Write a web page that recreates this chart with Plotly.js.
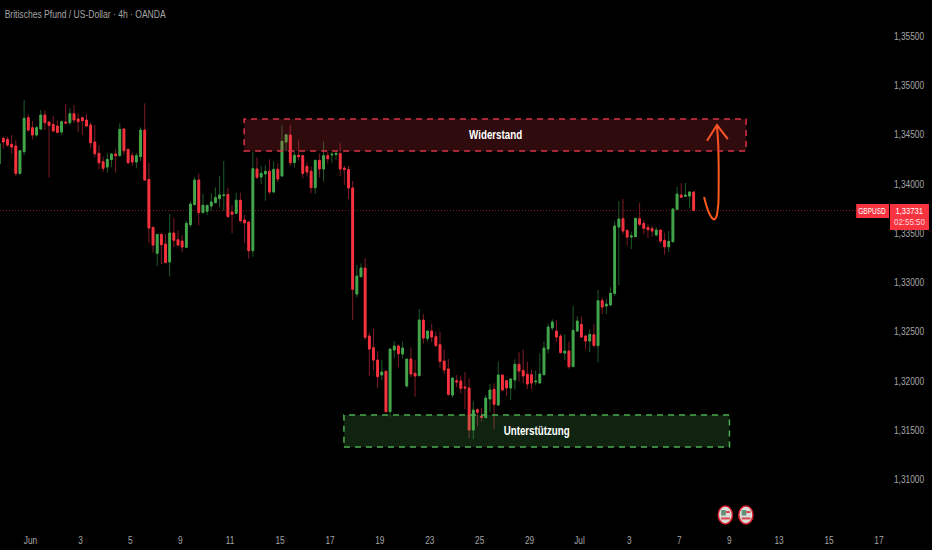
<!DOCTYPE html>
<html><head><meta charset="utf-8">
<script src="https://cdn.plot.ly/plotly-3.0.1.min.js"></script>
<style>html,body{margin:0;padding:0;background:#000}#c{width:932px;height:550px}</style>
</head><body><div id="c"></div>
<script>
const open_=[1.34203,1.34463,1.34453,1.34402,1.34385,1.34108,1.34328,1.34672,1.34571,1.34497,
1.34558,1.34699,1.34629,1.34605,1.34588,1.34527,1.34629,1.34622,1.34713,1.34659,
1.34672,1.34649,1.34598,1.34426,1.34311,1.34226,1.34172,1.34247,1.34304,1.34287,
1.34558,1.34351,1.34287,1.34223,1.34277,1.34547,1.34047,1.33560,1.33297,1.33489,
1.33391,1.33209,1.33503,1.33435,1.33422,1.33358,1.33588,1.33791,1.34041,1.33710,
1.33723,1.33777,1.33811,1.33852,1.33882,1.33895,1.33716,1.33703,1.33835,1.33635,
1.33615,1.33324,1.34152,1.34071,1.34102,1.34129,1.33919,1.34149,1.34081,1.34426,
1.34497,1.34217,1.34291,1.34288,1.34179,1.34129,1.33963,1.34240,1.34152,1.34288,
1.34294,1.34298,1.34308,1.34162,1.34146,1.33960,1.32884,1.33060,1.33148,1.32459,
1.32340,1.32215,1.32063,1.32100,1.31691,1.32317,1.32357,1.32276,1.31952,1.32225,
1.32080,1.32056,1.32621,1.32435,1.32509,1.32452,1.32371,1.32205,1.32124,1.31860,
1.32006,1.32002,1.31941,1.31931,1.31505,1.31712,1.31647,1.31631,1.31820,1.31918,
1.31759,1.32063,1.32006,1.31931,1.32012,1.32171,1.32110,1.32070,1.32066,1.31995,
1.31982,1.32066,1.32327,1.32540,1.32509,1.32459,1.32286,1.32306,1.32148,1.32509,
1.32577,1.32459,1.32408,1.32472,1.32361,1.32817,1.32763,1.32773,1.32891,1.33564,
1.33648,1.33530,1.33462,1.33466,1.33648,1.33601,1.33560,1.33547,1.33483,1.33533,
1.33429,1.33364,1.33415,1.33743,1.33888,1.33875,1.33878,1.33919];
const high_=[1.34412,1.34480,1.34480,1.34497,1.34446,1.34345,1.34852,1.34710,1.34639,1.34588,
1.34750,1.34750,1.34629,1.34689,1.34642,1.34642,1.34811,1.34767,1.34801,1.34716,
1.34683,1.34710,1.34625,1.34598,1.34395,1.34277,1.34311,1.34311,1.34351,1.34615,
1.34564,1.34361,1.34321,1.34311,1.34574,1.34818,1.34216,1.33567,1.33493,1.33500,
1.33493,1.33696,1.33655,1.33527,1.33483,1.33628,1.33824,1.34068,1.34108,1.33899,
1.33787,1.33906,1.33966,1.34081,1.34233,1.33963,1.33784,1.33912,1.33912,1.33686,
1.33615,1.34328,1.34271,1.34183,1.34190,1.34250,1.34233,1.34210,1.34599,1.34507,
1.34599,1.34338,1.34440,1.34294,1.34217,1.34176,1.34244,1.34311,1.34429,1.34328,
1.34328,1.34338,1.34413,1.34183,1.34183,1.34031,1.33178,1.33195,1.33246,1.32496,
1.32536,1.32306,1.32215,1.32114,1.32327,1.32408,1.32364,1.32401,1.32225,1.32344,
1.32215,1.32732,1.32682,1.32519,1.32580,1.32499,1.32499,1.32323,1.32225,1.32036,
1.32063,1.32056,1.32094,1.32029,1.31796,1.31725,1.31729,1.31860,1.31972,1.31979,
1.32198,1.32063,1.32012,1.32026,1.32222,1.32296,1.32323,1.32198,1.32114,1.32107,
1.32283,1.32401,1.32587,1.32628,1.32621,1.32479,1.32475,1.32401,1.32766,1.32661,
1.32655,1.32465,1.32526,1.32577,1.32925,1.32851,1.32834,1.32952,1.33618,1.33827,
1.33848,1.33540,1.33517,1.33658,1.33811,1.33635,1.33591,1.33577,1.33560,1.33537,
1.33506,1.33523,1.33753,1.33970,1.34010,1.34010,1.33929,1.33919];
const low_=[1.34203,1.34361,1.34378,1.34304,1.34081,1.34094,1.34294,1.34530,1.34453,1.34480,
1.34547,1.34547,1.34067,1.34530,1.34514,1.34497,1.34615,1.34601,1.34622,1.34524,
1.34497,1.34581,1.34361,1.34270,1.34149,1.34122,1.34115,1.34169,1.34115,1.34284,
1.34294,1.34203,1.34182,1.34159,1.34236,1.34040,1.33405,1.33304,1.33168,1.33189,
1.33195,1.33060,1.33358,1.33371,1.33311,1.33351,1.33561,1.33784,1.33581,1.33703,
1.33686,1.33730,1.33804,1.33764,1.33730,1.33662,1.33500,1.33696,1.33608,1.33399,
1.33243,1.33263,1.34048,1.34000,1.33831,1.33899,1.33906,1.34021,1.34075,1.34328,
1.34183,1.34169,1.34237,1.34058,1.34075,1.33906,1.33899,1.34068,1.34024,1.34210,
1.34217,1.34244,1.34081,1.33990,1.33848,1.32621,1.32851,1.33057,1.32418,1.32053,
1.32114,1.31928,1.32012,1.31688,1.31641,1.32232,1.32141,1.32232,1.31931,1.32039,
1.31843,1.32053,1.32384,1.32405,1.32398,1.32350,1.32131,1.32073,1.31850,1.31833,
1.31938,1.31877,1.31718,1.31421,1.31411,1.31546,1.31590,1.31627,1.31688,1.31516,
1.31749,1.31908,1.31850,1.31810,1.31918,1.31996,1.31979,1.31921,1.31918,1.31962,
1.31979,1.32063,1.32283,1.32513,1.32398,1.32283,1.32215,1.32127,1.32148,1.32502,
1.32442,1.32323,1.32296,1.32344,1.32192,1.32682,1.32682,1.32770,1.32864,1.32976,
1.33489,1.33378,1.33341,1.33462,1.33574,1.33489,1.33452,1.33466,1.33466,1.33398,
1.33283,1.33310,1.33408,1.33743,1.33865,1.33875,1.33757,1.33731];
const close_=[1.34412,1.34426,1.34395,1.34375,1.34108,1.34338,1.34666,1.34547,1.34497,1.34571,
1.34699,1.34622,1.34595,1.34537,1.34524,1.34632,1.34618,1.34713,1.34649,1.34632,
1.34642,1.34588,1.34419,1.34307,1.34216,1.34159,1.34250,1.34304,1.34287,1.34554,
1.34338,1.34216,1.34223,1.34287,1.34547,1.34040,1.33554,1.33381,1.33489,1.33385,
1.33205,1.33503,1.33429,1.33381,1.33361,1.33601,1.33797,1.34041,1.33710,1.33784,
1.33784,1.33818,1.33862,1.33889,1.33889,1.33669,1.33693,1.33835,1.33628,1.33605,
1.33324,1.34156,1.34068,1.34108,1.34129,1.33919,1.34149,1.34051,1.34433,1.34500,
1.34217,1.34291,1.34277,1.34108,1.34122,1.33963,1.34240,1.34152,1.34288,1.34257,
1.34301,1.34311,1.34152,1.34146,1.33960,1.32932,1.33067,1.33148,1.32445,1.32327,
1.32215,1.32046,1.32094,1.31691,1.32327,1.32357,1.32279,1.32337,1.32225,1.32073,
1.32053,1.32621,1.32438,1.32509,1.32448,1.32361,1.32202,1.32114,1.31867,1.32033,
1.31992,1.31928,1.31931,1.31505,1.31708,1.31685,1.31634,1.31830,1.31911,1.31766,
1.32063,1.31911,1.31931,1.32023,1.32171,1.32104,1.32053,1.31972,1.31982,1.32002,
1.32073,1.32337,1.32550,1.32601,1.32448,1.32290,1.32306,1.32148,1.32516,1.32611,
1.32448,1.32408,1.32475,1.32364,1.32817,1.32753,1.32783,1.32891,1.33574,1.33645,
1.33523,1.33462,1.33473,1.33652,1.33591,1.33550,1.33537,1.33523,1.33533,1.33422,
1.33364,1.33418,1.33746,1.33898,1.33865,1.33888,1.33919,1.33731];
const xTickLabels=['Jun','3','5','9','11','15','17','19','23','25','29','Jul','3','7','9','13','15','17'];
const lastPrice=1.33731;
const resistance=[1.34335,1.34659], resistanceBars=[58.9,179.6];
const support=[1.31333,1.31658], supportBars=[82.9,175.6];
const arrowBars=[169.5,170.0,170.7,171.4,171.9,172.4,172.9,173.0,173.0,172.9,172.6];
const arrowPrices=[1.33868,1.33787,1.33706,1.33655,1.33640,1.33665,1.33787,1.33990,1.34193,1.34395,1.34588];
const headBars=[170.2,172.6,175.2], headPrices=[1.34439,1.34598,1.34456];
const eventBars=[174.6,179.55], eventPrice=1.30644;

const FONT='"Liberation Sans",sans-serif';
const RED='#f7333f',GREEN='#44a74c',REDW='#7d1c26',GREENW='#1f5a29',ORANGE='#ff5a1e';
const bars=open_.map((_,i)=>i);
const bodyHigh=open_.map((o,i)=>Math.max(o,close_[i]));
const bodyLow=open_.map((o,i)=>Math.min(o,close_[i]));
const side=(c,l)=>({line:{color:c,width:1},fillcolor:l});
const traces=[
 {type:'candlestick',x:bars,open:open_,high:high_,low:low_,close:close_,whiskerwidth:0,hoverinfo:'skip',
  increasing:side(GREENW,GREENW),decreasing:side(REDW,REDW),showlegend:false},
 {type:'candlestick',x:bars,open:open_,high:bodyHigh,low:bodyLow,close:close_,whiskerwidth:0,hoverinfo:'skip',
  increasing:side(GREEN,GREEN),decreasing:side(RED,RED),showlegend:false},
 {type:'scatter',mode:'lines',x:arrowBars,y:arrowPrices,line:{color:ORANGE,width:2,shape:'spline'},hoverinfo:'skip',showlegend:false},
 {type:'scatter',mode:'lines',x:headBars,y:headPrices,line:{color:ORANGE,width:2},hoverinfo:'skip',showlegend:false}
];
const ev=[];
eventBars.forEach(b=>{
 ev.push({type:'circle',layer:'above',x0:b-1.7,x1:b+1.7,y0:eventPrice-0.00091,y1:eventPrice+0.00091,fillcolor:'#d9dcd8',line:{color:'#d8202e',width:1.5}});
 ev.push({type:'rect',layer:'above',x0:b-1.0,x1:b+0.1,y0:eventPrice-0.00005,y1:eventPrice+0.0005,fillcolor:'#5f9078',line:{width:0}});
 ev.push({type:'rect',layer:'above',x0:b+0.1,x1:b+1.1,y0:eventPrice+0.0002,y1:eventPrice+0.0004,fillcolor:'#e0444f',line:{width:0}});
 ev.push({type:'rect',layer:'above',x0:b-1.0,x1:b+1.1,y0:eventPrice-0.00045,y1:eventPrice-0.00025,fillcolor:'#e0444f',line:{width:0}});
});
const layout={
 width:932,height:550,paper_bgcolor:'#000',plot_bgcolor:'#000',separators:',.',showlegend:false,
 margin:{l:0,r:42,t:0,b:22},boxgap:0.4,boxmode:'overlay',
 font:{family:FONT,size:10,color:'#aaaaaa'},
 title:{text:'Britisches Pfund / US-Dollar · 4h · OANDA',x:0.005,xanchor:'left',y:0.9745,yanchor:'middle',font:{family:FONT,size:11,color:'#a6a6a6'}},
 xaxis:{range:[0.2,214.2],showgrid:false,zeroline:false,showline:false,ticks:'outside',ticklen:3,tickcolor:'rgba(0,0,0,0)',rangeslider:{visible:false},
  tickmode:'array',tickvals:xTickLabels.map((_,i)=>7.54+12*i),ticktext:xTickLabels,tickangle:0,tickfont:{family:FONT,size:10,color:'#a6a6a6'}},
 yaxis:{range:[1.30512,1.35866],side:'right',showgrid:false,zeroline:false,showline:false,ticks:'outside',ticklen:1,tickcolor:'rgba(0,0,0,0)',
  tick0:1.31,dtick:0.005,tickformat:'.5f',tickfont:{family:FONT,size:10,color:'#a6a6a6'}},
 shapes:[
  {type:'line',layer:'below',xref:'paper',x0:0,x1:0.962,yref:'y',y0:lastPrice,y1:lastPrice,line:{color:'#7d1c26',width:1,dash:'1px,2px'}},
  {type:'rect',layer:'above',x0:resistanceBars[0],x1:resistanceBars[1],y0:resistance[0],y1:resistance[1],fillcolor:'rgba(242,54,69,0.2)',line:{color:'#d9334a',width:1.5,dash:'6px,5px'}},
  {type:'rect',layer:'above',x0:supportBars[0],x1:supportBars[1],y0:support[0],y1:support[1],fillcolor:'rgba(76,175,80,0.2)',line:{color:'#4caf50',width:1.5,dash:'6px,5px'}},
  {type:'rect',layer:'above',xref:'paper',x0:0.962,x1:0.9989,yref:'y',y0:1.33655,y1:1.33797,fillcolor:RED,line:{width:0}},
  {type:'rect',layer:'above',xref:'paper',x0:1.0,x1:1.0438,yref:'y',y0:1.33534,y1:1.33797,fillcolor:RED,line:{width:0}},
  ...ev
 ],
 annotations:[
  {x:(resistanceBars[0]+resistanceBars[1])/2,y:(resistance[0]+resistance[1])/2,text:'<b>Widerstand</b>',showarrow:false,font:{family:FONT,size:12,color:'#ffffff'}},
  {x:(supportBars[0]+supportBars[1])/2,y:(support[0]+support[1])/2,text:'<b>Unterstützung</b>',showarrow:false,font:{family:FONT,size:12,color:'#ffffff'}},
  {xref:'paper',x:0.98034,xanchor:'center',yref:'y',y:lastPrice,yanchor:'middle',text:'GBPUSD',showarrow:false,font:{family:FONT,size:9,color:'#ffffff'}},
  {xref:'paper',x:1.0219,xanchor:'center',yref:'y',y:lastPrice,yanchor:'middle',text:'1,33731',showarrow:false,font:{family:FONT,size:9,color:'#ffffff'}},
  {xref:'paper',x:1.0219,xanchor:'center',yref:'y',y:1.33615,yanchor:'middle',text:'02:55:50',showarrow:false,font:{family:FONT,size:9.5,color:'#ffd9dc'}}
 ]
};
const textWidths={'GBPUSD':27.5,'1,33731':27.5,'02:55:50':31,'Widerstand':53,'Unterstützung':66,'Britisches Pfund / US-Dollar · 4h · OANDA':161};
Plotly.newPlot('c',traces,layout,{displayModeBar:false,staticPlot:true}).then(()=>{
 // The reference uses a condensed face; none is installed, so squeeze the real text horizontally.
 document.querySelectorAll('#c svg text').forEach(t=>{
  const w=t.getComputedTextLength();
  if(!w) return;
  const target=textWidths[t.textContent]||w*0.83;
  t.setAttribute('textLength',target.toFixed(1));
  t.setAttribute('lengthAdjust','spacingAndGlyphs');
 });
});
</script></body></html>
